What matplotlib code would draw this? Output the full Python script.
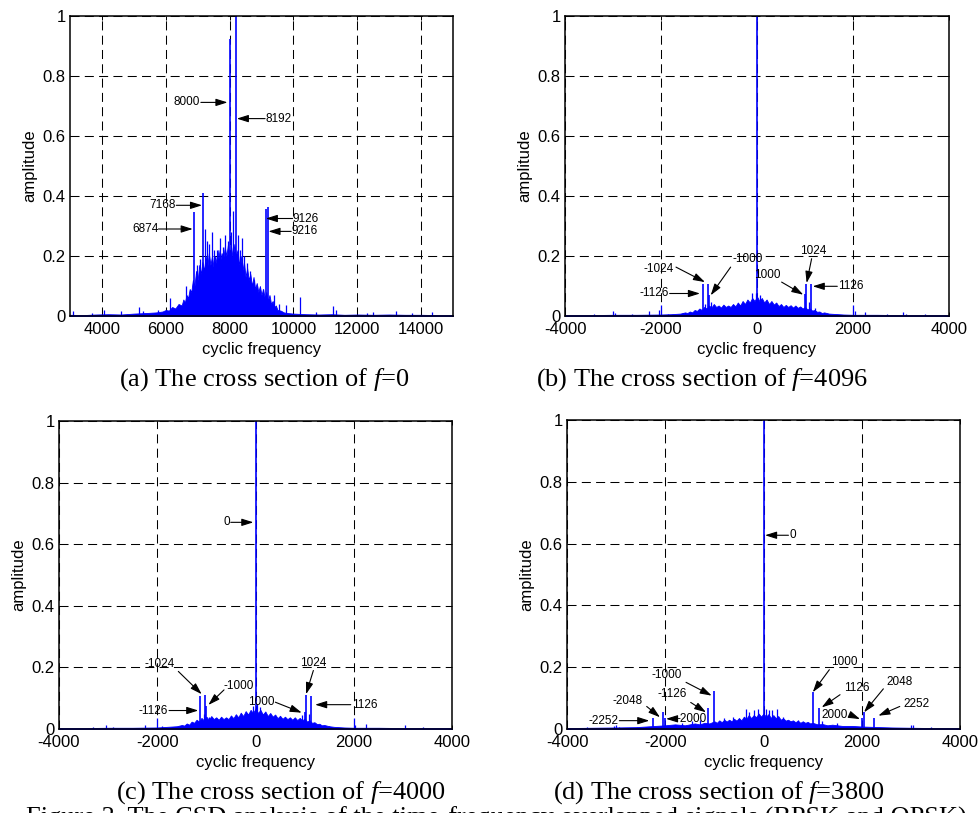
import matplotlib
matplotlib.use("Agg")
import matplotlib.pyplot as plt

plt.rcParams['font.family'] = ['Liberation Sans', 'DejaVu Sans']
plt.rcParams['mathtext.fontset'] = 'custom'
plt.rcParams['mathtext.rm'] = 'Liberation Serif'
plt.rcParams['mathtext.it'] = 'Liberation Serif:italic'
plt.rcParams['lines.scale_dashes'] = False

BLUE = (0, 0, 1)

# ---------------- data: panel (a) f=0 ----------------
a_peak_x = [6874, 7168, 8000, 8192, 9126, 9216]
a_peak_y = [0.348, 0.41, 0.923, 1.0, 0.357, 0.364]
a_spike_x = [3100, 3700, 4050, 4600, 5150, 5300, 5750, 6140, 6650, 6980, 7070, 7230, 7300,
             7360, 7450, 7520, 7610, 7700, 7780, 7860, 7940, 8060, 8120, 8250, 8320, 8380,
             8450, 8540, 8650, 8750, 8850, 9050, 9400, 9550, 9780, 10210, 10700, 11230,
             11330, 12300, 12500, 13200, 13700, 14350]
a_spike_y = [0.015, 0.01, 0.02, 0.015, 0.03, 0.015, 0.02, 0.06, 0.1, 0.17, 0.19, 0.29, 0.25,
             0.24, 0.28, 0.22, 0.22, 0.26, 0.23, 0.27, 0.25, 0.28, 0.35, 0.27, 0.22, 0.26,
             0.2, 0.175, 0.15, 0.12, 0.1, 0.09, 0.07, 0.04, 0.035, 0.064, 0.012, 0.033,
             0.02, 0.01, 0.012, 0.015, 0.01, 0.012]
a_env_x = [3000, 3400, 3800, 4200, 4600, 5000, 5400, 5700, 5900, 6000, 6100, 6200, 6300,
           6400, 6500, 6550, 6600, 6650, 6700, 6750, 6800, 6850, 6900, 6950, 7000, 7050,
           7100, 7150, 7200, 7250, 7300, 7350, 7400, 7450, 7500, 7550, 7600, 7650, 7700,
           7750, 7800, 7850, 7900, 7950, 8000, 8050, 8100, 8150, 8200, 8250, 8300, 8350,
           8400, 8450, 8500, 8550, 8600, 8650, 8700, 8750, 8800, 8850, 8900, 8950, 9000,
           9050, 9100, 9150, 9200, 9250, 9300, 9350, 9400, 9450, 9500, 9600, 9700, 9800,
           10000, 10400, 10800, 11200, 11600, 12000, 12500, 13000, 13500, 14000, 14500, 15000]
a_env_y = [0.004, 0.003, 0.005, 0.006, 0.005, 0.008, 0.01, 0.012, 0.015, 0.02, 0.018, 0.03,
           0.025, 0.04, 0.035, 0.055, 0.045, 0.07, 0.06, 0.09, 0.08, 0.12, 0.1, 0.15, 0.12,
           0.17, 0.14, 0.18, 0.15, 0.2, 0.16, 0.21, 0.17, 0.2, 0.16, 0.2, 0.17, 0.22, 0.18,
           0.21, 0.19, 0.23, 0.2, 0.24, 0.2, 0.23, 0.19, 0.24, 0.2, 0.22, 0.17, 0.2, 0.15,
           0.18, 0.13, 0.16, 0.12, 0.14, 0.1, 0.13, 0.09, 0.11, 0.08, 0.1, 0.07, 0.09, 0.06,
           0.08, 0.05, 0.07, 0.04, 0.05, 0.03, 0.035, 0.02, 0.018, 0.012, 0.01, 0.008, 0.006,
           0.005, 0.006, 0.004, 0.005, 0.004, 0.005, 0.004, 0.004, 0.003, 0.003]

# ---------------- data: panel (b) f=4096 ----------------
b_peak_x = [0, -1126, -1024, -1000, 1000, 1024, 1126]
b_peak_y = [1.0, 0.108, 0.108, 0.07, 0.072, 0.108, 0.107]
b_spike_x = [-3400, -3000, -2950, -2600, -2250, -2050, -2000, -1850, -1550, -1080, -950,
             -100, -30, 60, 1080, 1200, 2000, 2050, 2250, 2700, 3050, 3100, 3500]
b_spike_y = [0.006, 0.015, 0.01, 0.005, 0.015, 0.02, 0.035, 0.008, 0.01, 0.04, 0.045,
             0.075, 0.078, 0.07, 0.045, 0.025, 0.035, 0.015, 0.012, 0.005, 0.012, 0.008, 0.006]
b_env_x = [-4000, -3500, -3000, -2500, -2000, -1800, -1600, -1500, -1450, -1400, -1350,
           -1300, -1250, -1200, -1150, -1100, -1050, -1000, -950, -900, -850, -800, -750,
           -700, -650, -600, -550, -500, -450, -400, -350, -300, -250, -200, -150, -100,
           -50, 0, 50, 100, 150, 200, 250, 300, 350, 400, 450, 500, 550, 600, 650, 700,
           750, 800, 850, 900, 950, 1000, 1050, 1100, 1150, 1200, 1250, 1300, 1350, 1400,
           1500, 1600, 1800, 2000, 2500, 3000, 3500, 4000]
b_env_y = [0.003, 0.003, 0.004, 0.004, 0.005, 0.006, 0.008, 0.012, 0.01, 0.015, 0.012,
           0.02, 0.017, 0.025, 0.02, 0.03, 0.025, 0.035, 0.028, 0.04, 0.03, 0.035, 0.028,
           0.038, 0.03, 0.035, 0.03, 0.04, 0.032, 0.045, 0.035, 0.05, 0.04, 0.055, 0.045,
           0.06, 0.05, 0.065, 0.05, 0.06, 0.045, 0.055, 0.04, 0.05, 0.038, 0.045, 0.033,
           0.04, 0.03, 0.037, 0.03, 0.036, 0.028, 0.035, 0.027, 0.032, 0.025, 0.03, 0.022,
           0.025, 0.018, 0.02, 0.014, 0.015, 0.01, 0.012, 0.008, 0.007, 0.005, 0.004,
           0.004, 0.003, 0.003, 0.003]

# ---------------- data: panel (c) f=4000 ----------------
c_peak_x = [0, -1126, -1024, -1000, 1000, 1024, 1126]
c_peak_y = [1.0, 0.107, 0.11, 0.075, 0.055, 0.11, 0.107]
c_spike_x = [-3300, -3050, -2900, -2250, -2000, -1900, -1700, -1400, -1050, -940, -60, 30,
             100, 950, 1080, 1500, 2000, 2030, 2250, 2700, 3050, 3400]
c_spike_y = [0.005, 0.012, 0.008, 0.012, 0.035, 0.01, 0.008, 0.015, 0.05, 0.04, 0.075,
             0.08, 0.07, 0.045, 0.05, 0.01, 0.035, 0.012, 0.015, 0.004, 0.012, 0.006]
c_env_x = [-4000, -3500, -3000, -2500, -2000, -1800, -1600, -1500, -1450, -1400, -1350,
           -1300, -1250, -1200, -1150, -1100, -1050, -1000, -950, -900, -850, -800, -750,
           -700, -650, -600, -550, -500, -450, -400, -350, -300, -250, -200, -150, -100,
           -50, 0, 50, 100, 150, 200, 250, 300, 350, 400, 450, 500, 550, 600, 650, 700,
           750, 800, 850, 900, 950, 1000, 1050, 1100, 1150, 1200, 1250, 1300, 1350, 1400,
           1500, 1600, 1800, 2000, 2500, 3000, 3500, 4000]
c_env_y = [0.003, 0.003, 0.004, 0.004, 0.005, 0.007, 0.009, 0.013, 0.011, 0.018, 0.014,
           0.024, 0.02, 0.03, 0.024, 0.036, 0.028, 0.04, 0.03, 0.042, 0.032, 0.038, 0.03,
           0.04, 0.032, 0.038, 0.032, 0.044, 0.035, 0.048, 0.038, 0.053, 0.042, 0.058,
           0.047, 0.062, 0.052, 0.066, 0.052, 0.062, 0.047, 0.057, 0.042, 0.052, 0.04,
           0.047, 0.035, 0.043, 0.033, 0.04, 0.032, 0.038, 0.03, 0.038, 0.029, 0.036,
           0.028, 0.034, 0.024, 0.028, 0.02, 0.022, 0.016, 0.017, 0.012, 0.013, 0.009,
           0.007, 0.005, 0.004, 0.004, 0.003, 0.003, 0.003]

# ---------------- data: panel (d) f=3800 ----------------
d_peak_x = [0, -1000, -1126, -2048, -2000, -2252, 1000, 1126, 2000, 2048, 2252]
d_peak_y = [1.0, 0.123, 0.069, 0.056, 0.035, 0.035, 0.12, 0.067, 0.035, 0.056, 0.035]
d_spike_x = [-3600, -3050, -3000, -2950, -1650, -1450, -1300, -800, -620, -500, -350, -300,
             -200, -120, 50, 120, 180, 270, 400, 700, 1200, 1500, 3000, 3050, 3400]
d_spike_y = [0.005, 0.01, 0.012, 0.008, 0.02, 0.025, 0.03, 0.035, 0.04, 0.035, 0.065,
             0.055, 0.06, 0.065, 0.065, 0.06, 0.062, 0.065, 0.04, 0.03, 0.025, 0.018,
             0.012, 0.012, 0.006]
d_env_x = [-4000, -3500, -3000, -2600, -2400, -2200, -2000, -1800, -1600, -1400, -1300,
           -1200, -1100, -1000, -950, -900, -850, -800, -750, -700, -650, -600, -550,
           -500, -450, -400, -350, -300, -250, -200, -150, -100, -50, 0, 50, 100, 150,
           200, 250, 300, 350, 400, 450, 500, 550, 600, 650, 700, 750, 800, 850, 900,
           950, 1000, 1100, 1200, 1300, 1400, 1600, 1800, 2000, 2200, 2400, 2600, 3000,
           3500, 4000]
d_env_y = [0.003, 0.004, 0.005, 0.006, 0.008, 0.01, 0.012, 0.015, 0.012, 0.018, 0.015,
           0.02, 0.018, 0.025, 0.02, 0.028, 0.022, 0.03, 0.024, 0.03, 0.025, 0.033, 0.027,
           0.035, 0.028, 0.04, 0.033, 0.045, 0.035, 0.045, 0.038, 0.05, 0.04, 0.05, 0.04,
           0.048, 0.036, 0.045, 0.035, 0.042, 0.03, 0.035, 0.027, 0.03, 0.025, 0.028,
           0.022, 0.027, 0.02, 0.025, 0.02, 0.023, 0.018, 0.02, 0.015, 0.016, 0.012, 0.014,
           0.01, 0.01, 0.008, 0.007, 0.006, 0.005, 0.004, 0.003, 0.003]

# tick labels
y_ticks = [0, 0.2, 0.4, 0.6, 0.8, 1.0]
y_tick_labels = ['0', '0.2', '0.4', '0.6', '0.8', '1']
a_x_ticks = [4000, 6000, 8000, 10000, 12000, 14000]
bcd_x_ticks = [-4000, -2000, 0, 2000, 4000]

captions = [r"(a) The cross section of $f$=$\mathit{0}$",
            r"(b) The cross section of $f$=4096",
            r"(c) The cross section of $f$=4000",
            r"(d) The cross section of $f$=3800"]
fig_caption = "Figure 3. The CSD analysis of the time-frequency overlapped signals (BPSK and QPSK)"

# annotation layout: (label, text_x, text_y, ha, tail_x, tail_y, head_x, head_y)
a_notes = [("8000", 7075, 0.714, 'right', 7100, 0.712, 7935, 0.712),
           ("8192", 9122, 0.658, 'left', 9113, 0.658, 8226, 0.658),
           ("7168", 6323, 0.369, 'right', 6330, 0.369, 7138, 0.369),
           ("6874", 5768, 0.29, 'right', 5770, 0.29, 6846, 0.29),
           ("9126", 9981, 0.325, 'left', 9975, 0.325, 9134, 0.325),
           ("9216", 9937, 0.282, 'left', 9930, 0.282, 9217, 0.282)]
b_notes = [("-1024", -2058, 0.158, 'center', -1688, 0.163, -1084, 0.113),
           ("-1126", -1833, 0.075, 'right', -1820, 0.075, -1188, 0.075),
           ("-1000", -198, 0.191, 'center', -549, 0.163, -965, 0.069),
           ("1000", 208, 0.136, 'center', 513, 0.113, 964, 0.071),
           ("1024", 1166, 0.217, 'center', 1138, 0.191, 1034, 0.11),
           ("1126", 1690, 0.099, 'left', 1673, 0.099, 1160, 0.099)]
c_notes = [("0", -520, 0.671, 'right', -504, 0.671, -43, 0.671),
           ("-1024", -1944, 0.212, 'center', -1571, 0.187, -1095, 0.113),
           ("-1126", -1775, 0.06, 'right', -1760, 0.06, -1164, 0.06),
           ("-1000", -335, 0.14, 'center', -641, 0.127, -960, 0.078),
           ("1000", 113, 0.087, 'center', 404, 0.087, 941, 0.053),
           ("1024", 1182, 0.214, 'center', 1178, 0.19, 1029, 0.113),
           ("1126", 1959, 0.079, 'left', 1939, 0.079, 1213, 0.079)]
d_notes = [("0", 520, 0.627, 'left', 508, 0.627, 31, 0.627),
           ("-1000", -1964, 0.176, 'center', -1577, 0.151, -1054, 0.108),
           ("-1126", -1862, 0.113, 'center', -1482, 0.086, -1170, 0.054),
           ("-2048", -2758, 0.09, 'center', -2378, 0.073, -2107, 0.038),
           ("-2000", -1767, 0.032, 'left', -1770, 0.033, -1985, 0.033),
           ("-2252", -2955, 0.027, 'right', -2935, 0.027, -2324, 0.027),
           ("1000", 1640, 0.216, 'center', 1341, 0.192, 1003, 0.119),
           ("1126", 1898, 0.133, 'center', 1558, 0.111, 1185, 0.07),
           ("2000", 1456, 0.046, 'center', 1762, 0.046, 1966, 0.032),
           ("2048", 2760, 0.151, 'center', 2440, 0.13, 2047, 0.054),
           ("2252", 3106, 0.082, 'center', 2774, 0.073, 2338, 0.043)]

W, H = 980, 813
fig = plt.figure(figsize=(W / 100, H / 100), dpi=100)


def px_axes(l, t, r, b):
    return fig.add_axes([l / W, (H - b) / H, (r - l) / W, (b - t) / H])


panels = [
    (px_axes(70, 16, 453, 316), (3000, 15000), a_x_ticks, a_env_x, a_env_y,
     a_spike_x, a_spike_y, a_peak_x, a_peak_y, a_notes),
    (px_axes(565, 16, 949, 316), (-4000, 4000), bcd_x_ticks, b_env_x, b_env_y,
     b_spike_x, b_spike_y, b_peak_x, b_peak_y, b_notes),
    (px_axes(59, 421, 452, 729), (-4000, 4000), bcd_x_ticks, c_env_x, c_env_y,
     c_spike_x, c_spike_y, c_peak_x, c_peak_y, c_notes),
    (px_axes(567, 420, 960, 729), (-4000, 4000), bcd_x_ticks, d_env_x, d_env_y,
     d_spike_x, d_spike_y, d_peak_x, d_peak_y, d_notes),
]

for (ax, xlim, xticks, ex, ey, sx, sy, px, py, notes) in panels:
    ax.fill_between(ex, 0, ey, color=BLUE, lw=0.6, zorder=2)
    ax.vlines(sx, 0, sy, colors=[BLUE], lw=0.9, zorder=2)
    ax.vlines(px, 0, py, colors=[BLUE], lw=1.2, zorder=3)
    ax.set_xlim(*xlim)
    ax.set_ylim(0, 1)
    ax.set_xticks(xticks)
    ax.set_xticklabels([str(t) for t in xticks])
    ax.set_yticks(y_ticks)
    ax.set_yticklabels(y_tick_labels)
    ax.grid(True, color='black', lw=0.75, linestyle=(0, (6.5, 3.8)), zorder=1)
    ax.set_axisbelow(True)
    ax.tick_params(direction='in', length=3, width=0.7, labelsize=12, pad=3,
                   top=True, right=True, colors='black')
    ax.tick_params(axis='x', pad=4)
    for s in ax.spines.values():
        s.set_linewidth(1.1)
        s.set_zorder(5)
    ax.set_xlabel('cyclic frequency', fontsize=12, labelpad=4)
    ax.set_ylabel('amplitude', fontsize=12, labelpad=4)
    for (lab, tx, ty, ha, x0, y0, x1, y1) in notes:
        ax.annotate('', xy=(x1, y1), xytext=(x0, y0),
                    arrowprops=dict(arrowstyle='-|>,head_length=0.7,head_width=0.22',
                                    color='black', lw=0.8, shrinkA=0, shrinkB=0,
                                    mutation_scale=10), zorder=6)
        ax.text(tx, ty, lab, ha=ha, va='center', fontsize=8.5, color='black', zorder=7)

cap_pos = [(264, 386), (702, 386), (281, 799), (719, 799)]
for txt, (cx, cy) in zip(captions, cap_pos):
    fig.text(cx / W, (H - cy) / H, txt, ha='center', va='baseline',
             fontsize=19, family=['Liberation Serif', 'DejaVu Serif'])

fig.text(26 / W, (H - 825) / H, fig_caption, ha='left', va='baseline',
         fontsize=19, family=['Liberation Serif', 'DejaVu Serif'])

fig.savefig('out.png', dpi=100)
